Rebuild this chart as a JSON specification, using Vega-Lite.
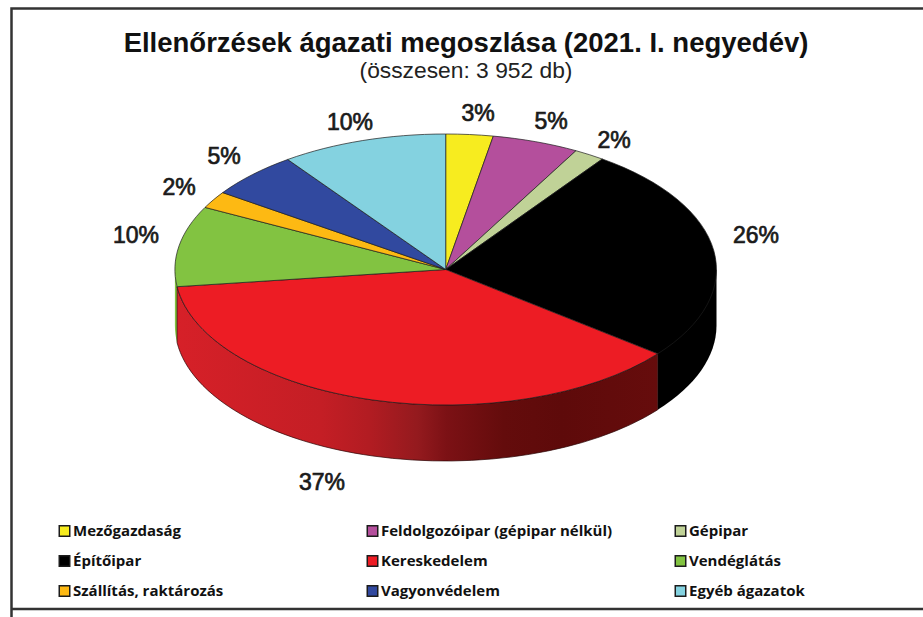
{
"$schema":"https://vega.github.io/schema/vega-lite/v6.json",
"width":923,"height":617,"padding":0,"autosize":{"type":"none"},
"background":"white",
"config":{"view":{"stroke":null}},
"title":{"text":"Ellenőrzések ágazati megoszlása (2021. I. negyedév)","subtitle":"(összesen: 3 952 db)","anchor":"middle","frame":"group","dx":4.5,"offset":-83,"font":"Liberation Sans","fontSize":27.5,"fontWeight":"bold","color":"#111111","subtitleFont":"Liberation Sans","subtitleFontSize":22.8,"subtitleColor":"#222222","subtitlePadding":3},
"data":{"values":[
{"slice":"Mezőgazdaság","share":0.03},
{"slice":"Feldolgozóipar (gépipar nélkül)","share":0.05},
{"slice":"Gépipar","share":0.02},
{"slice":"Építőipar","share":0.26},
{"slice":"Kereskedelem","share":0.37},
{"slice":"Vendéglátás","share":0.10},
{"slice":"Szállítás, raktározás","share":0.02},
{"slice":"Vagyonvédelem","share":0.05},
{"slice":"Egyéb ágazatok","share":0.10}
]},
"layer":[
{"transform":[{"filter":{"field":"slice","oneOf":["Építőipar","Vendéglátás"]}}],
 "mark":{"type":"point","filled":true,"opacity":1,"size":4,"xOffset":-15.8,"yOffset":-39},
 "encoding":{
  "color":{"field":"slice","type":"nominal","scale":{"domain":["Mezőgazdaság","Feldolgozóipar (gépipar nélkül)","Gépipar","Építőipar","Kereskedelem","Vendéglátás","Szállítás, raktározás","Vagyonvédelem","Egyéb ágazatok"],"range":["#f7ec1f","#b44f9c","#c0d297","#000000","#ed1c24","#82c341","#fdb913","#31499f","#84d2e0"]},
   "legend":{"title":null,"orient":"none","legendX":57,"legendY":523,"columns":3,"direction":"horizontal","gridAlign":"all","symbolType":"square","symbolSize":110,"symbolStrokeColor":"#000000","symbolStrokeWidth":1.5,"symbolOpacity":1,"labelFont":"Open Sans","labelFontSize":15,"labelFontWeight":"bold","labelColor":"#111111","labelOffset":1,"labelLimit":300,"columnPadding":60,"rowPadding":14,"clipHeight":16}},
  "shape":{"field":"slice","type":"nominal","legend":null,"scale":{"domain":["Építőipar","Vendéglátás"],"range":["M270.8,0 L270.8,56 A270.8,135.5 0 0 1 212,140.3 L212,84.3 Z","M-270.8,0 L-270.8,56 A270.8,135.5 0 0 0 -268.6,73.2 L-268.6,17.2 A270.8,135.5 0 0 1 -270.8,0 Z"]}}
 }},
{"transform":[{"filter":{"field":"slice","equal":"Kereskedelem"}}],
 "mark":{"type":"point","filled":true,"opacity":1,"size":4,"xOffset":-15.8,"yOffset":-39,"stroke":"#2a0505","strokeWidth":0.7,
  "fill":{"x1":0,"y1":0,"x2":1,"y2":0,"gradient":"linear","stops":[{"offset":0,"color":"#d62028"},{"offset":0.3,"color":"#c41e25"},{"offset":0.4,"color":"#b21c22"},{"offset":0.5,"color":"#941a1e"},{"offset":0.56,"color":"#7c1115"},{"offset":0.68,"color":"#640c0c"},{"offset":0.8,"color":"#5e0a0a"},{"offset":1,"color":"#660c0c"}]}},
 "encoding":{
  "shape":{"field":"slice","type":"nominal","legend":null,"scale":{"domain":["Kereskedelem"],"range":["M212,84.3 L212,140.3 A270.8,135.5 0 0 1 -268.6,73.2 L-268.6,17.2 A270.8,135.5 0 0 0 212,84.3 Z"]}}
 }},
{"mark":{"type":"point","filled":true,"opacity":1,"size":4,"xOffset":-15.8,"yOffset":-39,"stroke":"#1c1c1c","strokeWidth":0.7},
 "encoding":{
  "color":{"field":"slice","type":"nominal"},
  "shape":{"field":"slice","type":"nominal","legend":null,"scale":{"domain":["Mezőgazdaság","Feldolgozóipar (gépipar nélkül)","Gépipar","Építőipar","Kereskedelem","Vendéglátás","Szállítás, raktározás","Vagyonvédelem","Egyéb ágazatok"],"range":[
   "M0,0 L0,-135.5 A270.8,135.5 0 0 1 47.6,-133.4 Z",
   "M0,0 L47.6,-133.4 A270.8,135.5 0 0 1 130.3,-118.8 Z",
   "M0,0 L130.3,-118.8 A270.8,135.5 0 0 1 156.6,-110.5 Z",
   "M0,0 L156.6,-110.5 A270.8,135.5 0 0 1 212,84.3 Z",
   "M0,0 L212,84.3 A270.8,135.5 0 0 1 -268.6,17.2 Z",
   "M0,0 L-268.6,17.2 A270.8,135.5 0 0 1 -240.7,-62.1 Z",
   "M0,0 L-240.7,-62.1 A270.8,135.5 0 0 1 -223,-76.9 Z",
   "M0,0 L-223,-76.9 A270.8,135.5 0 0 1 -158,-110 Z",
   "M0,0 L-158,-110 A270.8,135.5 0 0 1 0,-135.5 Z"]}}
 }},
{"mark":{"type":"text","font":"Liberation Sans","fontSize":23,"color":"#1a1a1a","stroke":"#1a1a1a","strokeWidth":0.7,"align":"center","baseline":"middle",
  "dx":{"expr":"{'Mezőgazdaság':16.5,'Feldolgozóipar (gépipar nélkül)':89.5,'Gépipar':152.5,'Építőipar':294.5,'Kereskedelem':-139.5,'Vendéglátás':-325.5,'Szállítás, raktározás':-282.5,'Vagyonvédelem':-237.5,'Egyéb ágazatok':-111.5}[datum.slice]"},
  "dy":{"expr":"{'Mezőgazdaság':-194.5,'Feldolgozóipar (gépipar nélkül)':-186.5,'Gépipar':-167.5,'Építőipar':-72.5,'Kereskedelem':174.5,'Vendéglátás':-72.5,'Szállítás, raktározás':-120.5,'Vagyonvédelem':-151.5,'Egyéb ágazatok':-185.5}[datum.slice]"}},
 "encoding":{"text":{"field":"share","type":"quantitative","format":".0%"}}},
{"data":{"values":[{"part":"keret"}]},
 "mark":{"type":"point","filled":false,"opacity":1,"size":4,"stroke":"#333333","strokeWidth":2.5,
  "shape":"M-450,308.5 L-450,-300 L461.5,-300 M-450,300.5 L461.5,300.5"},
 "encoding":{}}
],
"resolve":{"scale":{"shape":"independent"}}
}
